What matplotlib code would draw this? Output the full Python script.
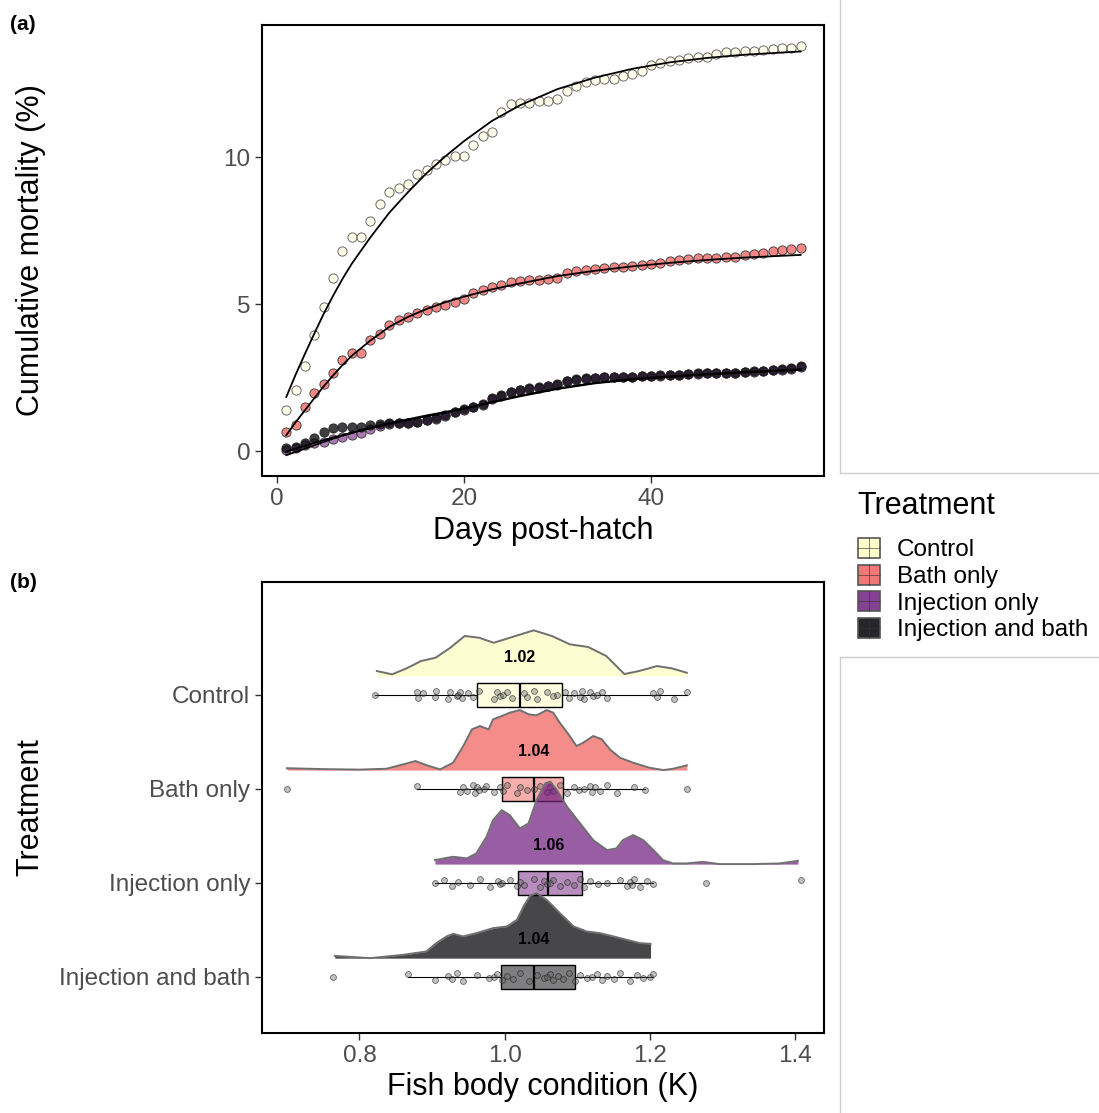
import numpy as np
import matplotlib.pyplot as plt
from matplotlib.colors import to_rgba
from matplotlib.patches import Patch, Rectangle
from matplotlib.lines import Line2D
from matplotlib.legend_handler import HandlerBase

plt.rcParams['font.family'] = ['Liberation Sans', 'DejaVu Sans']

## treatments and magma colours
treatments = ['Control', 'Bath only', 'Injection only', 'Injection and bath']
colours = ['#FCFDBF', '#F1605D', '#721F81', '#000004']

## (a) cumulative mortality, days 1-56
days = list(range(1, 57))
mort_control = [1.41, 2.09, 2.90, 3.95, 4.89, 5.88, 6.79, 7.27, 7.27, 7.81,
                8.40, 8.81, 8.93, 9.07, 9.41, 9.56, 9.77, 9.89, 10.03, 10.03,
                10.41, 10.71, 10.85, 11.54, 11.79, 11.84, 11.84, 11.90, 11.90, 11.99,
                12.26, 12.43, 12.56, 12.63, 12.67, 12.67, 12.75, 12.84, 12.92, 13.12,
                13.20, 13.28, 13.31, 13.37, 13.39, 13.39, 13.50, 13.57, 13.57, 13.59,
                13.62, 13.65, 13.67, 13.71, 13.71, 13.76]
mort_bath = [0.66, 0.88, 1.48, 1.98, 2.27, 2.66, 3.08, 3.33, 3.33, 3.76,
             3.99, 4.27, 4.47, 4.55, 4.69, 4.78, 4.89, 4.98, 5.08, 5.18,
             5.37, 5.46, 5.57, 5.66, 5.74, 5.77, 5.80, 5.82, 5.85, 5.88,
             6.05, 6.11, 6.16, 6.19, 6.23, 6.25, 6.27, 6.28, 6.31, 6.36,
             6.40, 6.45, 6.50, 6.53, 6.56, 6.56, 6.56, 6.61, 6.61, 6.68,
             6.70, 6.72, 6.79, 6.84, 6.86, 6.89]
mort_inj = [0.03, 0.10, 0.20, 0.28, 0.32, 0.40, 0.47, 0.55, 0.60, 0.75,
            0.85, 0.92, 0.95, 0.96, 0.99, 1.04, 1.10, 1.20, 1.32, 1.40,
            1.50, 1.58, 1.76, 1.88, 2.00, 2.06, 2.12, 2.16, 2.20, 2.26,
            2.37, 2.42, 2.46, 2.48, 2.52, 2.52, 2.52, 2.53, 2.54, 2.55,
            2.56, 2.57, 2.59, 2.61, 2.63, 2.64, 2.65, 2.66, 2.67, 2.68,
            2.70, 2.72, 2.75, 2.77, 2.80, 2.87]
mort_inj_bath = [0.09, 0.15, 0.26, 0.43, 0.66, 0.77, 0.82, 0.82, 0.82, 0.88,
                 0.91, 0.94, 0.96, 0.96, 1.00, 1.05, 1.11, 1.22, 1.34, 1.42,
                 1.51, 1.60, 1.79, 1.90, 2.02, 2.07, 2.13, 2.17, 2.21, 2.27,
                 2.39, 2.44, 2.47, 2.49, 2.53, 2.53, 2.53, 2.53, 2.55, 2.55,
                 2.57, 2.57, 2.60, 2.62, 2.64, 2.64, 2.65, 2.66, 2.67, 2.69,
                 2.71, 2.73, 2.76, 2.78, 2.81, 2.89]

## fitted curves
fit_days = [1, 2, 3, 4, 5, 6, 7, 8, 10, 12, 14, 16, 18, 20, 23, 26, 30, 34, 38, 42, 46, 50, 56]
fit_control = [1.84, 2.60, 3.31, 4.00, 4.67, 5.28, 5.85, 6.37, 7.27, 8.10, 8.80, 9.45, 10.02, 10.54,
               11.23, 11.76, 12.31, 12.70, 13.00, 13.22, 13.37, 13.48, 13.59]
fit_bath = [0.54, 0.98, 1.39, 1.80, 2.20, 2.57, 2.92, 3.24, 3.76, 4.22, 4.56, 4.83, 5.06, 5.25,
            5.50, 5.70, 5.95, 6.13, 6.28, 6.40, 6.50, 6.58, 6.67]
fit_inj = [-0.02, 0.08, 0.18, 0.28, 0.37, 0.46, 0.54, 0.62, 0.78, 0.91, 1.05, 1.18, 1.30, 1.43,
           1.65, 1.86, 2.11, 2.30, 2.43, 2.52, 2.60, 2.67, 2.76]
fit_inj_bath = [-0.14, -0.03, 0.08, 0.20, 0.31, 0.42, 0.52, 0.61, 0.80, 0.95, 1.08, 1.21, 1.33, 1.45,
                1.67, 1.88, 2.13, 2.32, 2.45, 2.54, 2.62, 2.69, 2.78]

## (b) body condition K, individual fish
k_control = [0.821, 0.879, 0.881, 0.888, 0.904, 0.905, 0.922, 0.925, 0.934, 0.936, 0.939, 0.941,
             0.950, 0.957, 0.964, 0.985, 0.989, 0.994, 0.998, 1.003, 1.010, 1.026, 1.031, 1.040,
             1.044, 1.058, 1.067, 1.072, 1.083, 1.088, 1.095, 1.104, 1.106, 1.109, 1.118, 1.122,
             1.127, 1.134, 1.141, 1.205, 1.210, 1.214, 1.233, 1.251]
k_bath = [0.700, 0.879, 0.939, 0.943, 0.948, 0.957, 0.959, 0.962, 0.964, 0.971, 0.975, 0.985,
          0.994, 0.998, 1.003, 1.017, 1.021, 1.031, 1.040, 1.049, 1.058, 1.063, 1.067, 1.076,
          1.086, 1.095, 1.102, 1.109, 1.118, 1.120, 1.125, 1.132, 1.141, 1.155, 1.178, 1.194, 1.251]
k_inj = [0.904, 0.916, 0.927, 0.936, 0.952, 0.966, 0.980, 0.991, 0.994, 0.996, 1.008, 1.017,
         1.021, 1.026, 1.040, 1.049, 1.054, 1.058, 1.063, 1.067, 1.076, 1.086, 1.095, 1.104,
         1.109, 1.118, 1.129, 1.141, 1.159, 1.168, 1.173, 1.175, 1.178, 1.187, 1.196, 1.205,
         1.277, 1.408]
k_inj_bath = [0.764, 0.867, 0.904, 0.922, 0.927, 0.934, 0.943, 0.962, 0.978, 0.985, 0.989, 0.996,
              1.003, 1.012, 1.021, 1.033, 1.044, 1.054, 1.058, 1.063, 1.067, 1.074, 1.081, 1.088,
              1.097, 1.104, 1.113, 1.120, 1.127, 1.134, 1.141, 1.150, 1.159, 1.173, 1.182, 1.191,
              1.200, 1.205]

## box stats
box_lo = [0.821, 0.879, 0.904, 0.867]
box_q1 = [0.9625, 0.996, 1.018, 0.995]
box_med = [1.021, 1.040, 1.060, 1.040]
box_q3 = [1.079, 1.080, 1.106, 1.097]
box_hi = [1.251, 1.194, 1.205, 1.205]

## density outlines (K, height)
dens_x_control = [0.824, 0.845, 0.865, 0.885, 0.905, 0.925, 0.945, 0.965, 0.985, 1.015, 1.040, 1.065,
                  1.090, 1.115, 1.140, 1.165, 1.185, 1.210, 1.230, 1.251]
dens_h_control = [0.053, 0.018, 0.082, 0.160, 0.195, 0.300, 0.426, 0.407, 0.354, 0.426, 0.486, 0.426,
                  0.337, 0.309, 0.213, 0.021, 0.053, 0.106, 0.082, 0.035]
dens_x_bath = [0.700, 0.750, 0.800, 0.837, 0.860, 0.877, 0.893, 0.911, 0.929, 0.943, 0.955, 0.966,
               0.978, 0.984, 0.996, 1.007, 1.021, 1.033, 1.044, 1.058, 1.067, 1.076, 1.088, 1.099,
               1.108, 1.122, 1.134, 1.145, 1.159, 1.177, 1.200, 1.219, 1.232, 1.251]
dens_h_bath = [0.020, 0.010, 0.005, 0.014, 0.060, 0.096, 0.050, 0.007, 0.078, 0.255, 0.433, 0.468,
               0.433, 0.539, 0.574, 0.610, 0.638, 0.593, 0.582, 0.638, 0.610, 0.503, 0.380, 0.255,
               0.290, 0.362, 0.327, 0.220, 0.131, 0.078, 0.024, 0.000, 0.014, 0.050]
dens_x_inj = [0.904, 0.929, 0.948, 0.961, 0.975, 0.984, 0.996, 1.007, 1.021, 1.033, 1.044, 1.056,
              1.063, 1.072, 1.086, 1.104, 1.122, 1.141, 1.154, 1.163, 1.177, 1.191, 1.205, 1.218,
              1.232, 1.250, 1.273, 1.296, 1.342, 1.379, 1.404]
dens_h_inj = [0.043, 0.078, 0.061, 0.114, 0.290, 0.468, 0.574, 0.521, 0.380, 0.433, 0.681, 0.859,
              0.876, 0.787, 0.610, 0.433, 0.255, 0.149, 0.167, 0.255, 0.309, 0.255, 0.149, 0.043,
              0.007, 0.007, 0.024, 0.000, 0.000, 0.007, 0.035]
dens_x_inj_bath = [0.766, 0.815, 0.860, 0.892, 0.906, 0.920, 0.929, 0.943, 0.961, 0.984, 1.003, 1.017,
                   1.026, 1.035, 1.044, 1.058, 1.076, 1.095, 1.113, 1.131, 1.150, 1.168, 1.186, 1.201]
dens_h_inj_bath = [0.024, 0.000, 0.035, 0.071, 0.160, 0.231, 0.259, 0.231, 0.266, 0.319, 0.337, 0.407,
                   0.550, 0.663, 0.691, 0.620, 0.479, 0.337, 0.284, 0.266, 0.231, 0.195, 0.160, 0.152]

mort_all = [mort_control, mort_bath, mort_inj, mort_inj_bath]
fit_all = [fit_control, fit_bath, fit_inj, fit_inj_bath]
k_all = [k_control, k_bath, k_inj, k_inj_bath]
dens_all = [(dens_x_control, dens_h_control), (dens_x_bath, dens_h_bath),
            (dens_x_inj, dens_h_inj), (dens_x_inj_bath, dens_h_inj_bath)]
ypos = [4, 3, 2, 1]

jit = [0.0, 0.035, -0.03, 0.015, -0.02, 0.04, -0.04, 0.025, -0.01]

W, H = 1099, 1113
fig = plt.figure(figsize=(W/100, H/100), dpi=100)
axa = fig.add_axes([262/W, 1-476/H, 562/W, 451/H])
axb = fig.add_axes([262/W, 1-1033/H, 562/W, 451/H])

for ax in (axa, axb):
    for s in ax.spines.values():
        s.set_linewidth(1.5)
        s.set_color('black')
    ax.tick_params(length=5, width=1, color='#333333', labelcolor='#4D4D4D', labelsize=17.5)

## panel (a)
pt_alpha = [0.3, 0.75, 0.6, 0.75]
pt_edge = ['#555555', '#333333', '#333333', '#222222']
for i in range(4):
    axa.scatter(days, mort_all[i], s=44, facecolors=[to_rgba(colours[i], pt_alpha[i])],
                edgecolors=pt_edge[i], linewidths=0.6, zorder=3)
for i in range(4):
    axa.plot(fit_days, fit_all[i], color='black', lw=1.3, zorder=4)

axa.set_xlim(-1.6, 58.5)
axa.set_ylim(-0.85, 14.49)
axa.set_xticks([0, 20, 40])
axa.set_yticks([0, 5, 10])
axa.set_xlabel('Days post-hatch', fontsize=22)
axa.set_ylabel('Cumulative mortality (%)', fontsize=22)
axa.xaxis.set_label_coords(0.5, -0.088)
axa.yaxis.set_label_coords(-0.385, 0.5)

## panel (b)
for i in range(4):
    y0 = ypos[i]
    stats = [dict(whislo=box_lo[i], q1=box_q1[i], med=box_med[i], q3=box_q3[i], whishi=box_hi[i])]
    axb.bxp(stats, positions=[y0], widths=0.26, vert=False, showfliers=False, patch_artist=True,
            boxprops=dict(facecolor=to_rgba(colours[i], 0.5), edgecolor='black', lw=1),
            medianprops=dict(color='black', lw=1.6),
            whiskerprops=dict(color='black', lw=0.8), showcaps=False,
            manage_ticks=False, zorder=2)
    vals = k_all[i]
    yy = [y0 + jit[j % len(jit)] for j in range(len(vals))]
    axb.plot(vals, yy, 'o', ms=4.2, mfc=(0.4, 0.4, 0.4, 0.4), mec=(0.12, 0.12, 0.12, 0.65),
             mew=0.6, ls='none', zorder=3)
    dx, dh = dens_all[i]
    base = y0 + 0.2
    axb.fill_between(dx, base, [base + h for h in dh], color=colours[i], alpha=0.72, lw=0, zorder=4)
    axb.plot(dx, [base + h for h in dh], color='#6f6f6f', lw=1.4, zorder=4.1)
    axb.text(box_med[i], y0 + 0.4, '%.2f' % box_med[i], ha='center', va='center',
             fontsize=11.5, fontweight='bold', color='black', zorder=5)

axb.set_xlim(0.6657, 1.44)
axb.set_ylim(0.404, 5.2)
axb.set_xticks([0.8, 1.0, 1.2, 1.4])
axb.set_xticklabels(['0.8', '1.0', '1.2', '1.4'])
axb.set_yticks(ypos)
axb.set_yticklabels(treatments)
axb.set_xlabel('Fish body condition (K)', fontsize=22)
axb.set_ylabel('Treatment', fontsize=22)
axb.xaxis.set_label_coords(0.5, -0.086)
axb.yaxis.set_label_coords(-0.385, 0.5)

## panel tags
fig.text(10/W, 1-25/H, '(a)', fontsize=15, fontweight='bold', va='center', ha='left')
fig.text(10/W, 1-583/H, '(b)', fontsize=15, fontweight='bold', va='center', ha='left')

## light frames left by the composite
for xs, ys in [([840, 840], [0, 473]), ([840, W], [473, 473]),
               ([840, W], [657, 657]), ([840, 840], [657, H])]:
    fig.add_artist(Line2D([x/W for x in xs], [1-y/H for y in ys], color='#cccccc', lw=1))


## legend with boxplot-like keys
class BoxKey(HandlerBase):
    def create_artists(self, legend, orig, xd, yd, w, h, fontsize, trans):
        r = Rectangle((-xd, -yd), w, h, facecolor=orig.get_facecolor(),
                      edgecolor='#555555', lw=1.2, transform=trans)
        v = Line2D([-xd + w/2, -xd + w/2], [-yd, -yd + h], color='#333333', lw=0.7,
                   alpha=0.6, transform=trans)
        hz = Line2D([-xd, -xd + w], [-yd + h/2, -yd + h/2], color='#333333', lw=0.7,
                    alpha=0.6, transform=trans)
        return [r, v, hz]


fig.text(857/W, 1-506/H, 'Treatment', fontsize=22, va='center', ha='left')
handles = [Patch(facecolor=c, alpha=0.85) for c in colours]
leg = fig.legend(handles, treatments, loc='upper left',
                 bbox_to_anchor=(858/W, 1-538/H), frameon=False, fontsize=17.5,
                 handlelength=0.9, handleheight=0.9,
                 handletextpad=0.7, labelspacing=0.13, borderpad=0, borderaxespad=0,
                 handler_map={Patch: BoxKey()})

fig.savefig('out.png', dpi=100)
